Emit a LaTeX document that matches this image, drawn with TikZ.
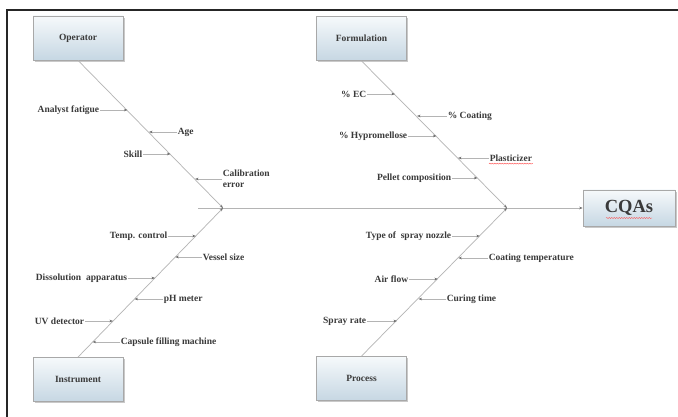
\documentclass[tikz,border=0pt]{standalone}
\usepackage{fontspec}
\setmainfont{Liberation Serif}
\usetikzlibrary{arrows.meta,shadows,decorations.pathmorphing}
\definecolor{linegray}{HTML}{B4B4B4}
\definecolor{tipgray}{HTML}{6E6E6E}
\definecolor{txtgray}{HTML}{3A3A3A}
\definecolor{boxtop}{HTML}{F6F9FB}
\definecolor{boxbot}{HTML}{C6D7E3}
\definecolor{boxedge}{HTML}{A8A8A8}
\tikzset{
  catbox/.style={draw=boxedge, line width=0.8pt, top color=boxtop, bottom color=boxbot,
    minimum width=90pt, minimum height=44pt, inner sep=0pt,
    font=\fontsize{9.5}{11}\selectfont\bfseries, text=txtgray,
    drop shadow={shadow xshift=1.6pt, shadow yshift=-1.6pt, opacity=0.35, fill=black!60}},
  cause/.style={inner sep=0.6pt, font=\fontsize{9.5}{11}\selectfont\bfseries, text=txtgray},
  bone/.style={draw=linegray, line width=0.8pt},
  twig/.style={draw=linegray, line width=0.7pt, -{Stealth[length=3.5pt,width=2.6pt,color=tipgray]}},
  wavy/.style={draw=red!70, line width=0.4pt, decorate, decoration={snake, amplitude=0.5pt, segment length=2.5pt}}
}
\begin{document}
\begin{tikzpicture}[x=1pt,y=-1pt]
\useasboundingbox (0,0) rectangle (678,417);
\fill[white] (0,0) rectangle (678,417);
% frame
\draw[line width=1.3pt, black!85] (7,417) -- (7,10) -- (678,10);

% category boxes
\node[catbox] (op)   at (78,38)    {Operator};
\node[catbox] (form) at (361.5,38.5) {Formulation};
\node[catbox] (inst) at (78,379.5) {Instrument};
\node[catbox] (proc) at (361.5,378.5) {Process};
\node[catbox, minimum width=92pt, minimum height=36pt, font=\fontsize{18.5}{20}\selectfont\bfseries] (cqa) at (629,208) {CQAs};
\draw[wavy] ([xshift=-23pt,yshift=-10pt]cqa.center) -- ([xshift=23pt,yshift=-10pt]cqa.center);

% spine and junctions
\coordinate (s0) at (198,208);
\coordinate (j1) at (223,208);
\coordinate (j2) at (507,208);
\draw[twig] (s0) -- (cqa.west);
\draw[twig] (op.south) -- (j1);
\draw[twig] (inst.north) -- (j1);
\draw[twig] (form.south) -- (j2);
\draw[twig] (proc.north) -- (j2);

% Operator causes
\node[cause, anchor=east] (af) at (100,110) {Analyst fatigue};
\coordinate (taf) at (127.5,110);
\draw[twig] (af.east) -- (taf);
\node[cause, anchor=west] (age) at (177,132) {Age};
\coordinate (tage) at (149,132);
\draw[twig] (age.west) -- (tage);
\node[cause, anchor=east] (sk) at (143,154) {Skill};
\coordinate (tsk) at (170.5,154);
\draw[twig] (sk.east) -- (tsk);
\node[cause, anchor=west, align=left, font=\fontsize{9.5}{10.5}\selectfont\bfseries] (cal) at (222,179) {Calibration\\error};
\coordinate (tcal) at (195,179);
\draw[twig] (cal.west) -- (tcal);

% Formulation causes
\node[cause, anchor=east] (ec) at (367,94) {\% EC};
\coordinate (tec) at (395,94);
\draw[twig] (ec.east) -- (tec);
\node[cause, anchor=west] (coat) at (447,116) {\% Coating};
\coordinate (tcoat) at (417,116);
\draw[twig] (coat.west) -- (tcoat);
\node[cause, anchor=east] (hyp) at (408,136) {\% Hypromellose};
\coordinate (thyp) at (436.5,136);
\draw[twig] (hyp.east) -- (thyp);
\node[cause, anchor=west] (pla) at (489,158) {Plasticizer};
\coordinate (tpla) at (458,158);
\draw[twig] (pla.west) -- (tpla);
\draw[wavy] ([yshift=-1.5pt]pla.south west) -- ([yshift=-1.5pt]pla.south east);
\node[cause, anchor=east] (pel) at (452,178) {Pellet composition};
\coordinate (tpel) at (477.5,178);
\draw[twig] (pel.east) -- (tpel);

% Instrument causes
\node[cause, anchor=east] (tc) at (168,236) {Temp. control};
\coordinate (ttc) at (195.8,236);
\draw[twig] (tc.east) -- (ttc);
\node[cause, anchor=west] (vs) at (202,257) {Vessel size};
\coordinate (tvs) at (175.3,257);
\draw[twig] (vs.west) -- (tvs);
\node[cause, anchor=east] (da) at (128,278) {Dissolution~ apparatus};
\coordinate (tda) at (155,278);
\draw[twig] (da.east) -- (tda);
\node[cause, anchor=west] (ph) at (163,299) {pH meter};
\coordinate (tph) at (134.5,299);
\draw[twig] (ph.west) -- (tph);
\node[cause, anchor=east] (uv) at (85,321) {UV detector};
\coordinate (tuv) at (113,321);
\draw[twig] (uv.east) -- (tuv);
\node[cause, anchor=west] (cap) at (120,342) {Capsule filling machine};
\coordinate (tcap) at (92.6,342);
\draw[twig] (cap.west) -- (tcap);

% Process causes
\node[cause, anchor=east] (noz) at (452,236) {Type of~ spray nozzle};
\coordinate (tnoz) at (479.8,236);
\draw[twig] (noz.east) -- (tnoz);
\node[cause, anchor=west] (ct) at (488,258) {Coating temperature};
\coordinate (tct) at (458.4,258);
\draw[twig] (ct.west) -- (tct);
\node[cause, anchor=east] (air) at (409,279) {Air flow};
\coordinate (tair) at (437.9,279);
\draw[twig] (air.east) -- (tair);
\node[cause, anchor=west] (cur) at (446,299) {Curing time};
\coordinate (tcur) at (418.5,299);
\draw[twig] (cur.west) -- (tcur);
\node[cause, anchor=east] (spr) at (367,321) {Spray rate};
\coordinate (tspr) at (397,321);
\draw[twig] (spr.east) -- (tspr);
\end{tikzpicture}
\end{document}
